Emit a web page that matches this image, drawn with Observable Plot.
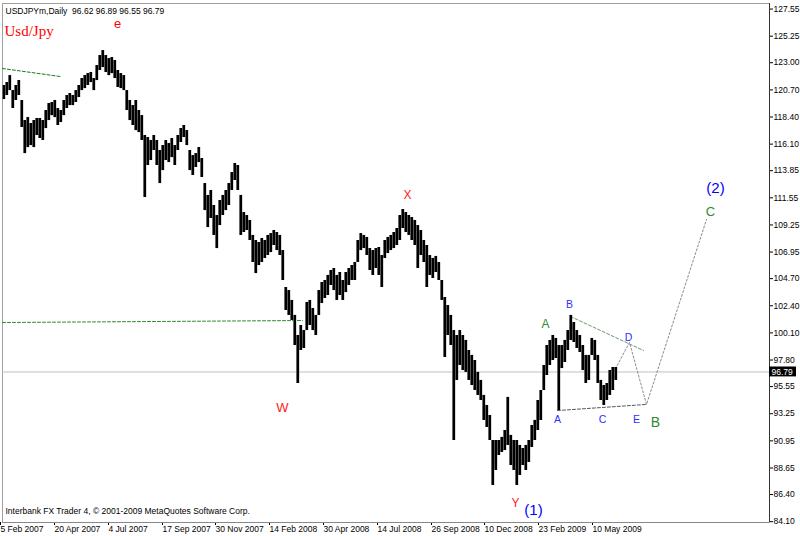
<!DOCTYPE html>
<html><head><meta charset="utf-8">
<script src="https://cdn.jsdelivr.net/npm/d3@7"></script>
<script src="https://cdn.jsdelivr.net/npm/@observablehq/plot@0.6"></script>
<style>html,body{margin:0;padding:0;background:#fff;} svg{display:block}</style>
</head><body><div id="chart"></div>
<script>
// ---- data ----
const symbolName = "USDJPYm,Daily";
const lastBar = [96.62, 96.89, 96.55, 96.79]; // open high low close
const pairTitle = "Usd/Jpy";
const footerText = "Interbank FX Trader 4, \u00a9 2001-2009 MetaQuotes Software Corp.";
const barStep = 3; // each sample = 3 daily bars, starting 5 Feb 2007
const high = [121.07,121.32,121.91,120.64,121.07,121.49,119.80,118.10,118.35,117.85,118.10,118.27,118.27,118.10,118.95,119.54,119.63,119.80,119.12,118.95,119.80,120.22,120.39,120.22,120.64,121.07,121.66,121.91,122.08,122.17,121.66,122.76,123.61,124.03,123.61,123.35,123.44,123.19,122.34,122.08,121.91,120.64,119.80,119.37,119.80,118.95,118.52,116.83,116.66,116.41,116.83,116.41,115.56,115.98,116.41,116.15,116.58,115.98,116.83,117.42,117.68,117.25,115.56,115.13,115.30,115.81,114.88,112.76,111.75,112.17,
110.90,110.05,111.32,111.75,112.17,112.76,113.69,114.46,114.29,111.75,110.30,110.05,109.63,108.36,107.93,107.76,108.10,107.93,108.36,108.52,108.78,108.61,108.36,107.08,103.95,103.69,102.85,101.58,99.88,100.73,100.30,102.68,102.85,102.17,101.58,103.69,104.37,104.54,104.97,105.39,105.56,104.97,105.22,104.54,105.22,105.56,105.81,106.07,107.93,108.52,108.36,108.19,107.25,107.08,107.25,107.34,106.66,107.93,108.19,108.36,108.61,108.95,110.05,110.56,110.30,110.05,109.88,109.63,109.20,108.78,107.93,107.51,106.66,106.41,106.58,106.07,104.54,103.10,102.42,101.58,100.30,99.88,100.30,99.88,99.46,98.61,98.19,97.76,96.75,96.07,94.80,93.95,93.10,90.98,90.98,90.98,91.24,91.83,94.63,91.41,90.98,90.98,90.56,90.30,90.56,90.98,92.25,92.68,94.37,95.22,97.34,99.03,99.46,99.88,99.63,99.03,99.03,99.46,100.30,101.58,100.98,100.30,99.88,99.03,98.19,98.19,99.63,99.46,98.19,96.07,95.64,95.81,96.91,97.17,97.17];
const low = [119.88,120.22,120.64,119.12,119.80,120.22,117.51,115.30,115.81,115.98,115.81,116.83,116.58,116.41,117.42,118.10,118.52,118.35,117.68,117.93,118.52,119.12,119.37,119.37,119.63,120.05,120.64,120.81,121.07,121.32,120.64,121.49,122.34,122.59,122.17,121.91,122.08,121.66,120.90,120.81,120.64,118.95,118.10,117.68,117.25,117.08,116.41,111.58,114.29,114.71,115.56,114.29,112.76,113.86,114.71,114.54,114.96,114.29,115.56,116.24,116.66,115.98,113.86,113.44,114.12,114.54,113.27,110.47,109.03,109.80,
108.36,107.25,109.20,110.05,110.47,110.90,112.17,113.02,112.17,108.36,108.61,108.78,107.93,106.07,105.13,105.81,106.07,106.41,106.66,106.91,107.51,107.08,106.66,104.54,102.00,101.58,101.15,99.03,95.81,98.61,98.78,100.30,100.73,100.30,99.88,101.58,102.59,103.02,103.27,104.12,103.69,102.85,103.27,102.85,103.52,104.12,104.54,104.54,106.07,107.08,107.25,106.66,105.39,104.97,105.56,104.97,103.95,106.41,106.83,107.08,107.25,107.51,107.93,108.95,108.61,108.36,107.93,107.51,105.56,106.66,106.07,103.95,104.97,104.71,105.22,104.54,102.85,98.02,99.88,99.03,90.98,96.07,97.34,96.91,96.75,96.07,95.64,95.22,94.80,94.37,92.68,92.08,90.98,87.17,88.44,89.71,89.97,90.13,90.56,88.86,88.44,87.17,88.02,88.86,88.44,89.12,90.39,90.98,91.83,92.68,95.22,96.49,97.34,97.76,97.93,93.52,97.08,97.59,98.61,99.46,99.29,98.78,98.44,96.91,95.81,96.07,98.19,97.76,95.81,94.37,93.95,94.37,94.80,95.22,96.07];

const priceTicks = [127.55,125.25,123.00,120.70,118.40,116.10,113.85,111.55,109.25,106.95,104.70,102.40,100.10,97.80,95.55,93.25,90.95,88.65,86.40,84.10];
const dateTicks = [0,54,108,162,215,269,323,377,431,484,538,592];
const dateLabels = ["5 Feb 2007","20 Apr 2007","4 Jul 2007","17 Sep 2007","30 Nov 2007","14 Feb 2008","30 Apr 2008","14 Jul 2008","26 Sep 2008","10 Dec 2008","23 Feb 2009","10 May 2009"];

// wave labels: text, bar index, price, colour, font size
const waveText  = ["e","X","W","Y","(1)","(2)","C","A","B","B","A","C","D","E"];
const waveIdx   = [115,405,280,513,531,713,708,543,653,567,555,600,626,634];
const wavePrice = [126.32,111.75,93.78,85.64,85.05,112.34,110.39,100.81,92.51,102.51,92.76,92.76,99.71,92.76];
const waveColor = ["#ff0000","#ff2020","#ff2020","#ff2020","#0000ff","#0000ff","#2e8b2e","#2e8b2e","#2e8b2e","#3030ff","#3030ff","#3030ff","#3030ff","#3030ff"];
const waveSize  = [13,12,13,12,15,15,13,12,14,10.5,10.5,10.5,10.5,10.5];
const waveWeight= ["bold","normal","normal","normal","normal","normal","normal","normal","normal","normal","normal","normal","normal","normal"];

// trend / projection lines: [index, price] pairs
const lineTopLeft   = [[0,122.51],[58,121.83]];
const lineSupport   = [[0,100.98],[300,101.15]];
const lineTriUpper  = [[568,101.49],[641,98.61]];
const lineTriLower  = [[555,93.52],[643,94.03]];
const lineProjection= [[611,96.75],[627,99.29],[644,94.03],[704,109.71]];

// ---- chart ----
const bars = high.map((h, k) => ({i: k * barStep, hi: h, lo: low[k]}));
const toPts = (arr) => arr.map(([i, p]) => ({i, p}));
const waves = waveText.map((t, k) => ({t, i: waveIdx[k], p: wavePrice[k], c: waveColor[k], s: waveSize[k], w: waveWeight[k]}));
const lastClose = lastBar[3];

const chart = Plot.plot({
  width: 800,
  height: 536,
  marginLeft: 2,
  marginRight: 31,
  marginTop: 3,
  marginBottom: 14,
  style: {fontFamily: "'Liberation Sans', Arial, sans-serif", fontSize: "8.5px", color: "#000", background: "#fff"},
  x: {domain: [0, 767], axis: null},
  y: {domain: [84.03, 128.02], axis: null},
  marks: [
    Plot.frame({stroke: "#a0a0a0"}),
    Plot.ruleY([lastClose], {stroke: "#c0c0c0", strokeWidth: 1}),
    Plot.line(toPts(lineTopLeft), {x: "i", y: "p", stroke: "#1a7a1a", strokeDasharray: "3,2", strokeWidth: 1}),
    Plot.line(toPts(lineSupport), {x: "i", y: "p", stroke: "#2a8a2a", strokeDasharray: "3,2", strokeWidth: 1}),
    Plot.line(toPts(lineTriUpper), {x: "i", y: "p", stroke: "#6f976f", strokeDasharray: "3,2", strokeWidth: 1}),
    Plot.line(toPts(lineTriLower), {x: "i", y: "p", stroke: "#505a50", strokeDasharray: "3,2", strokeWidth: 1}),
    Plot.line(toPts(lineProjection), {x: "i", y: "p", stroke: "#8a8a8a", strokeDasharray: "2,2", strokeWidth: 1}),
    Plot.rect(bars, {x1: "i", x2: d => d.i + barStep, y1: "lo", y2: "hi", fill: "#7a7a7a"}),
    Plot.ruleX(bars, {x: d => d.i + 1.5, y1: "lo", y2: "hi", stroke: "#000", strokeWidth: 2.3}),
    Plot.text(waves, {x: "i", y: "p", text: "t", fill: d => d.c, fontSize: d => d.s, fontWeight: d => d.w}),
    Plot.axisY(priceTicks, {anchor: "right", tickSize: 3, tickPadding: 1, tickFormat: d => d.toFixed(2), fontSize: 8.5, label: null, stroke: "#000"}),
    Plot.axisX(dateTicks, {anchor: "bottom", tickSize: 3, tickPadding: 0, tickFormat: (d, k) => dateLabels[k], textAnchor: "start", dx: -2, fontSize: 8.5, label: null}),
    Plot.ruleX([767], {stroke: "#333"}),
    Plot.ruleY([84.03], {stroke: "#888"}),
    Plot.rect([lastClose], {x1: 767, x2: 794, y1: d => d - 0.42, y2: d => d + 0.42, fill: "#000"}),
    Plot.text([lastClose], {x: 769, y: d => d, text: d => d.toFixed(2), fill: "#fff", textAnchor: "start", fontSize: 8.5}),
    Plot.text([symbolName + "\u00a0\u00a0" + lastBar.map(v => v.toFixed(2)).join(" ")], {frameAnchor: "top-left", dx: 3, dy: 4.5, textAnchor: "start", fontSize: 8.5}),
    Plot.text([pairTitle], {frameAnchor: "top-left", dx: 2, dy: 22, textAnchor: "start", fontSize: 15, fill: "#ff0000", fontFamily: "'Liberation Serif', 'Times New Roman', serif"}),
    Plot.text([footerText], {frameAnchor: "bottom-left", dx: 3, dy: -8.5, textAnchor: "start", fontSize: 8.5})
  ]
});
document.getElementById("chart").appendChild(chart);
</script>
</body></html>
